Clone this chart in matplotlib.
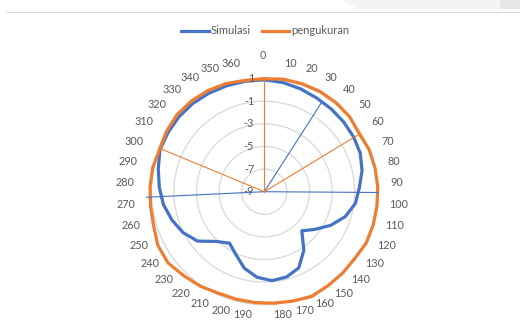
import numpy as np
import matplotlib
matplotlib.use("Agg")
import matplotlib.pyplot as plt
from matplotlib.lines import Line2D
from matplotlib.patches import Polygon

plt.rcParams['font.family'] = ['Lato', 'DejaVu Sans']

# Radiation pattern (dB), one value per angle category
categories = ["0", "10", "20", "30", "40", "50", "60", "70", "80", "90",
              "100", "110", "120", "130", "140", "150", "160", "170", "180",
              "190", "200", "210", "220", "230", "240", "250", "260", "270",
              "280", "290", "300", "310", "320", "330", "340", "350", "360"]
simulasi = [0.90, 0.80, 0.65, 0.50, 0.42, 0.35, 0.27, 0.15, -0.15, -0.58,
            -0.87, -1.50, -2.40, -3.40, -4.20, -2.75, -1.60, -1.20, -1.10,
            -1.40, -2.00, -2.90, -3.50, -2.90, -1.65, -0.95, -0.45, 0.00,
            0.30, 0.60, 0.95, 1.00, 1.05, 1.05, 1.00, 0.95, 0.92]
pengukuran = [1.00, 1.10, 1.12, 1.15, 1.12, 1.05, 0.85, 1.00, 1.02, 1.05,
              1.05, 1.08, 1.10, 0.95, 1.00, 1.05, 1.18, 1.00, 0.90,
              0.85, 0.83, 0.86, 1.10, 1.30, 1.60, 1.55, 1.25, 1.15,
              1.12, 1.10, 1.00, 1.17, 1.30, 1.30, 1.25, 1.15, 1.00]

# Beam guide lines (compass angle in degrees, end value)
sim_guide_deg = [32.7, 90.4, 267.3]
sim_guide_val = [0.46, 1.10, 1.42]
ukur_guide_deg = [0.0, 58.8, 292.5]
ukur_guide_val = [1.00, 0.80, 1.00]

r_ticks = [-9, -7, -5, -3, -1, 1]
r_tick_labels = ["-9", "-7", "-5", "-3", "-1", "1"]

BLUE = "#4472C4"
ORANGE = "#ED7D31"
GRID = "#d9d9d9"
TEXT = "#595959"

W_PX, H_PX = 520, 329
fig = plt.figure(figsize=(W_PX / 100, H_PX / 100), dpi=100)

# window chrome along the top edge
fig.add_artist(Polygon([(343 / W_PX, 1), (1, 1), (1, 1 - 8.7 / H_PX), (358 / W_PX, 1 - 8.7 / H_PX)],
                       closed=True, transform=fig.transFigure, facecolor="#f4f4f4", edgecolor="none"))
fig.add_artist(Polygon([(500 / W_PX, 1), (1, 1), (1, 1 - 8.7 / H_PX), (500 / W_PX, 1 - 8.7 / H_PX)],
                       closed=True, transform=fig.transFigure, facecolor="#e6e6e6", edgecolor="none"))
fig.add_artist(Line2D([7 / W_PX, 1], [1 - 12.3 / H_PX] * 2, transform=fig.transFigure,
                      color=GRID, lw=0.8))

cx, cy, rad_px = 264.3, 191.7, 113.0
ax = fig.add_axes([(cx - rad_px) / W_PX, (H_PX - cy - rad_px) / H_PX,
                   2 * rad_px / W_PX, 2 * rad_px / H_PX], projection="polar")
ax.set_theta_zero_location("N")
ax.set_theta_direction(-1)
ax.set_ylim(r_ticks[0], r_ticks[-1])
ax.set_xticks([])
ax.set_yticks(r_ticks)
ax.set_yticklabels([])
ax.yaxis.grid(True, color=GRID, lw=0.9)
ax.spines["polar"].set_color(GRID)
ax.spines["polar"].set_linewidth(0.9)
ax.set_facecolor("none")

n = len(categories)
theta = np.arange(n) * 2 * np.pi / n
theta_c = np.append(theta, theta[0])

ax.plot(theta_c, np.append(simulasi, simulasi[0]), color=BLUE, lw=2.3,
        solid_joinstyle="round", clip_on=False, zorder=3)
ax.plot(theta_c, np.append(pengukuran, pengukuran[0]), color=ORANGE, lw=2.3,
        solid_joinstyle="round", clip_on=False, zorder=4)

for d, v in zip(sim_guide_deg, sim_guide_val):
    a = np.deg2rad(d)
    ax.plot([a, a], [r_ticks[0], v], color=BLUE, lw=0.8, clip_on=False, zorder=5)
for d, v in zip(ukur_guide_deg, ukur_guide_val):
    a = np.deg2rad(d)
    ax.plot([a, a], [r_ticks[0], v], color=ORANGE, lw=0.8, clip_on=False, zorder=5)

# value labels along the vertical axis
for v, s in zip(r_ticks, r_tick_labels):
    ax.annotate(s, xy=(0, v), xytext=(-7.3, 0), textcoords="offset points",
                ha="right", va="center", fontsize=7.8, color=TEXT,
                annotation_clip=False, zorder=6)

# category labels around the ring
px2pt = 72 / 100
for t, s in zip(theta, categories):
    sn, cs = np.sin(t), np.cos(t)
    lift = 0.0
    if abs(sn) < 0.02:
        ha = "center"
        lift = 6.5 if cs > 0 else 0.0
    elif sn > 0:
        ha = "left"
    else:
        ha = "right"
    dx = -1.8 + 128.0 * sn
    dy = 3.5 + 122.5 * cs + 4.0 * cs + lift
    ax.annotate(s, xy=(0, r_ticks[0]), xytext=(dx * px2pt, dy * px2pt),
                textcoords="offset points", ha=ha, va="center",
                fontsize=7.8, color=TEXT, annotation_clip=False)

handles = [Line2D([], [], color=BLUE, lw=2.3), Line2D([], [], color=ORANGE, lw=2.3)]
fig.legend(handles, ["Simulasi", "pengukuran"], loc="center",
           bbox_to_anchor=(265 / W_PX, 1 - 31 / H_PX), ncol=2, frameon=False,
           fontsize=8, handlelength=2.5, handletextpad=0.15, columnspacing=1.0,
           labelcolor=TEXT)

fig.savefig("out.png", dpi=100)
